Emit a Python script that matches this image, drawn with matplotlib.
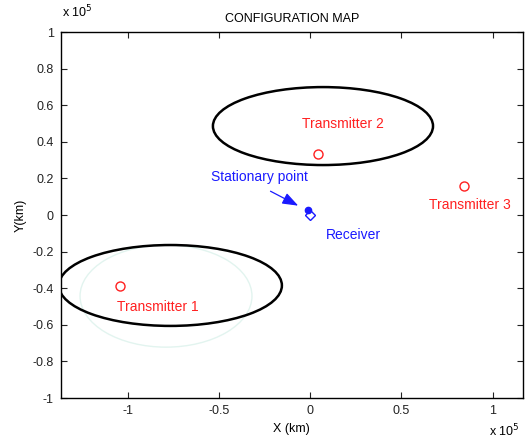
import matplotlib
matplotlib.use("Agg")
import matplotlib.pyplot as plt
from matplotlib.patches import Ellipse
import numpy as np

plt.rcParams["font.family"] = ["Liberation Sans", "DejaVu Sans"]

SCALE = 1e5

# positions in units of 1e5 km
tx_names = ["Transmitter 1", "Transmitter 2", "Transmitter 3"]
tx_x = [-1.04, 0.044, 0.843]
tx_y = [-0.388, 0.332, 0.158]
tx_label_x = [-0.834, 0.18, 0.876]
tx_label_y = [-0.503, 0.497, 0.055]

receiver_xy = (0.0, 0.0)
stationary_xy = (-0.01, 0.027)

# uncertainty ellipses: centre x, centre y, semi-axis x, semi-axis y
ell_cx = [-0.766, 0.070]
ell_cy = [-0.385, 0.486]
ell_ax = [0.611, 0.603]
ell_ay = [0.221, 0.213]

# faint reference ellipse
faint_c = (-0.790, -0.443)
faint_ax = (0.471, 0.279)

xticks = [-1, -0.5, 0, 0.5, 1]
yticks = [-1, -0.8, -0.6, -0.4, -0.2, 0, 0.2, 0.4, 0.6, 0.8, 1]

fig = plt.figure(figsize=(5.26, 4.42), dpi=100)
ax = fig.add_axes([0.1154, 0.0995, 0.8789, 0.8281])

ax.add_patch(Ellipse((faint_c[0] * SCALE, faint_c[1] * SCALE),
                     2 * faint_ax[0] * SCALE, 2 * faint_ax[1] * SCALE,
                     fill=False, edgecolor="#e2f4ef", linewidth=1.0))
for cx, cy, a, b in zip(ell_cx, ell_cy, ell_ax, ell_ay):
    ax.add_patch(Ellipse((cx * SCALE, cy * SCALE), 2 * a * SCALE, 2 * b * SCALE,
                         fill=False, edgecolor="black", linewidth=1.8))

red = "#ff2020"
blue = "#1a1aff"
ax.plot(np.array(tx_x) * SCALE, np.array(tx_y) * SCALE, "o", mfc="none",
        mec=red, ms=6.5, mew=1.0, linestyle="none")
for name, lx, ly in zip(tx_names, tx_label_x, tx_label_y):
    ax.text(lx * SCALE, ly * SCALE, name, color=red, fontsize=10,
            ha="center", va="center")

ax.plot(receiver_xy[0] * SCALE, receiver_xy[1] * SCALE, "D", mfc="white",
        mec=blue, ms=5.5, mew=1.0)
ax.plot(stationary_xy[0] * SCALE, stationary_xy[1] * SCALE, "o", color=blue, ms=4.5)
ax.text(0.235 * SCALE, -0.109 * SCALE, "Receiver", color=blue, fontsize=10,
        ha="center", va="center")
ax.annotate("", xy=(-0.052 * SCALE, 0.044 * SCALE), xytext=(-0.231 * SCALE, 0.137 * SCALE),
            arrowprops=dict(arrowstyle="-|>,head_length=0.6,head_width=0.22",
                            color=blue, lw=0.9, mutation_scale=16))
ax.text(-0.278 * SCALE, 0.208 * SCALE, "Stationary point", color=blue, fontsize=10,
        ha="center", va="center")

ax.set_xlim(-1.367 * SCALE, 1.166 * SCALE)
ax.set_ylim(-1 * SCALE, 1 * SCALE)
ax.set_xticks(np.array(xticks) * SCALE)
ax.set_xticklabels([f"{t:g}" for t in xticks])
ax.set_yticks(np.array(yticks) * SCALE)
ax.set_yticklabels([f"{t:g}" for t in yticks])
ax.tick_params(direction="in", top=True, right=True, length=4, labelsize=9,
               colors="#222222", pad=5)
for s in ax.spines.values():
    s.set_linewidth(1.0)

ax.set_title("CONFIGURATION MAP", fontsize=9, pad=7)
ax.set_xlabel("X (km)", fontsize=9, labelpad=4)
ax.set_ylabel("Y(km)", fontsize=9, labelpad=4)
fig.text(0.118, 0.955, r"x 10$^5$", fontsize=9, ha="left", va="bottom")
fig.text(0.93, 0.005, r"x 10$^5$", fontsize=9, ha="left", va="bottom")

fig.savefig("out.png", dpi=100)
